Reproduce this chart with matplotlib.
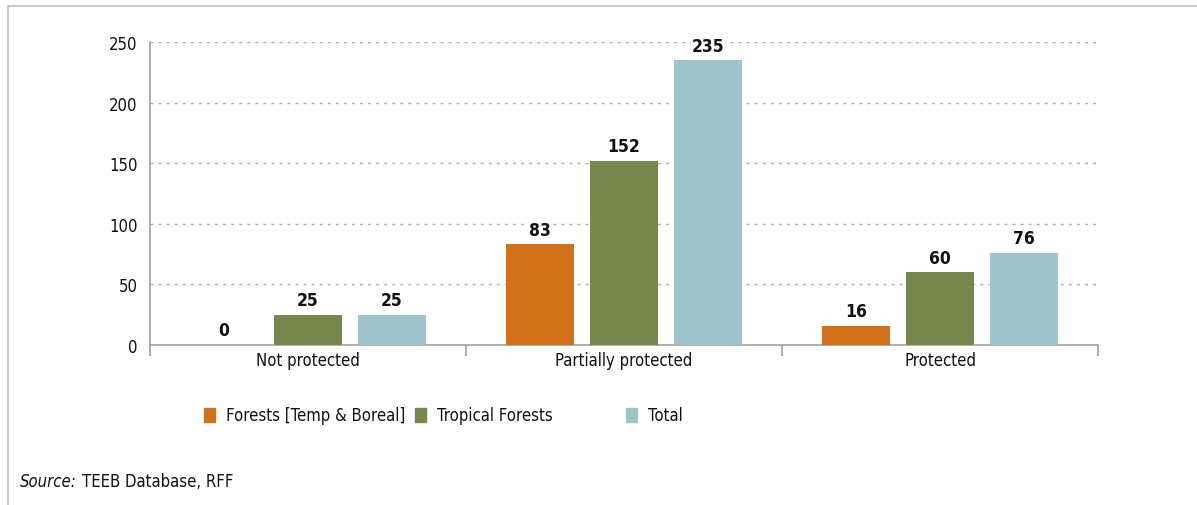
import matplotlib
matplotlib.use("Agg")
import matplotlib.pyplot as plt
from matplotlib import font_manager
from matplotlib.patches import Rectangle
from matplotlib.lines import Line2D
import numpy as np

categories = ["Not protected", "Partially protected", "Protected"]
series_names = ["Forests [Temp & Boreal]", "Tropical Forests", "Total"]
temp_boreal = [0, 83, 16]
tropical = [25, 152, 60]
total = [25, 235, 76]
series_values = [temp_boreal, tropical, total]
colors = ["#D2711C", "#76884E", "#9EC5C9"]
y_ticks = [0, 50, 100, 150, 200, 250]

# pick a narrow sans face if one is installed
fonts = font_manager.fontManager.ttflist
narrow = [f for f in fonts if f.name == "Liberation Sans Narrow"]
condensed = [f for f in fonts if f.name == "DejaVu Sans" and "condensed" in str(f.stretch)]
if narrow:
    plt.rcParams["font.family"] = ["Liberation Sans Narrow", "DejaVu Sans"]
    fs = 13
elif condensed:
    plt.rcParams["font.family"] = ["DejaVu Sans"]
    plt.rcParams["font.stretch"] = "condensed"
    fs = 12
else:
    plt.rcParams["font.family"] = ["DejaVu Sans"]
    fs = 11

W, H = 1197, 506
fig = plt.figure(figsize=(W / 100, H / 100), dpi=100)
ax = fig.add_axes([150 / W, 1 - 346 / H, (1098 - 150) / W, (346 - 43) / H])

x = np.arange(len(categories)) + 0.5
step = 84 / 316
width = 68 / 316
for i, (vals, col) in enumerate(zip(series_values, colors)):
    xs = x + (i - 1) * step
    bars = ax.bar(xs, vals, width=width, color=col, zorder=3)
    for b, v in zip(bars, vals):
        ax.annotate(str(v), (b.get_x() + b.get_width() / 2, v),
                    xytext=(0, 4), textcoords="offset points",
                    ha="center", va="bottom", fontsize=fs + 0.5, fontweight="bold",
                    color="#111111", zorder=4,
                    bbox=dict(facecolor="white", edgecolor="none", pad=0.5))

ax.set_xlim(0, 3)
ax.set_ylim(0, 250)
ax.set_yticks(y_ticks)
ax.set_yticklabels([str(t) for t in y_ticks], fontsize=fs, color="#111111")
ax.tick_params(axis="y", length=0, pad=9)
ax.set_xticks([0, 1, 2, 3])
ax.set_xticklabels([])
ax.set_xticks(x, minor=True)
ax.set_xticklabels(categories, minor=True, fontsize=fs, color="#111111")
ax.tick_params(axis="x", which="major", length=8, color="#a0a0a0", width=1.2)
ax.tick_params(axis="x", which="minor", length=0, pad=4)

for t in y_ticks[1:]:
    ax.axhline(t, color="#b0b0b0", lw=1, ls=(0, (2.2, 3.6)), zorder=1)

for s in ["top", "right"]:
    ax.spines[s].set_visible(False)
for s in ["left", "bottom"]:
    ax.spines[s].set_color("#a0a0a0")
    ax.spines[s].set_linewidth(1.2)

# legend
leg_x = [204, 415, 626]
for lx, name, col in zip(leg_x, series_names, colors):
    fig.patches.append(Rectangle((lx / W, 1 - 423 / H), 11 / W, 14 / H,
                                 transform=fig.transFigure, color=col))
    fig.text((lx + 22) / W, 1 - 416 / H, name, fontsize=fs,
             ha="left", va="center", color="#111111")

# source line: italic label followed by the plain source names
src = fig.text(20 / W, 1 - 482 / H, "Source:", fontsize=fs, style="italic",
               ha="left", va="center", color="#111111")
fig.canvas.draw()
bb = src.get_window_extent()
fig.text((bb.x1 + 5) / W, 1 - 482 / H, "TEEB Database, RFF", fontsize=fs,
         ha="left", va="center", color="#111111")

# frame lines at top and left
fig.add_artist(Line2D([8 / W, 1], [1 - 7 / H, 1 - 7 / H], transform=fig.transFigure,
                      color="#c8c8c8", lw=1.5))
fig.add_artist(Line2D([8 / W, 8 / W], [0, 1 - 7 / H], transform=fig.transFigure,
                      color="#c8c8c8", lw=1.5))

fig.savefig("out.png", dpi=100)
